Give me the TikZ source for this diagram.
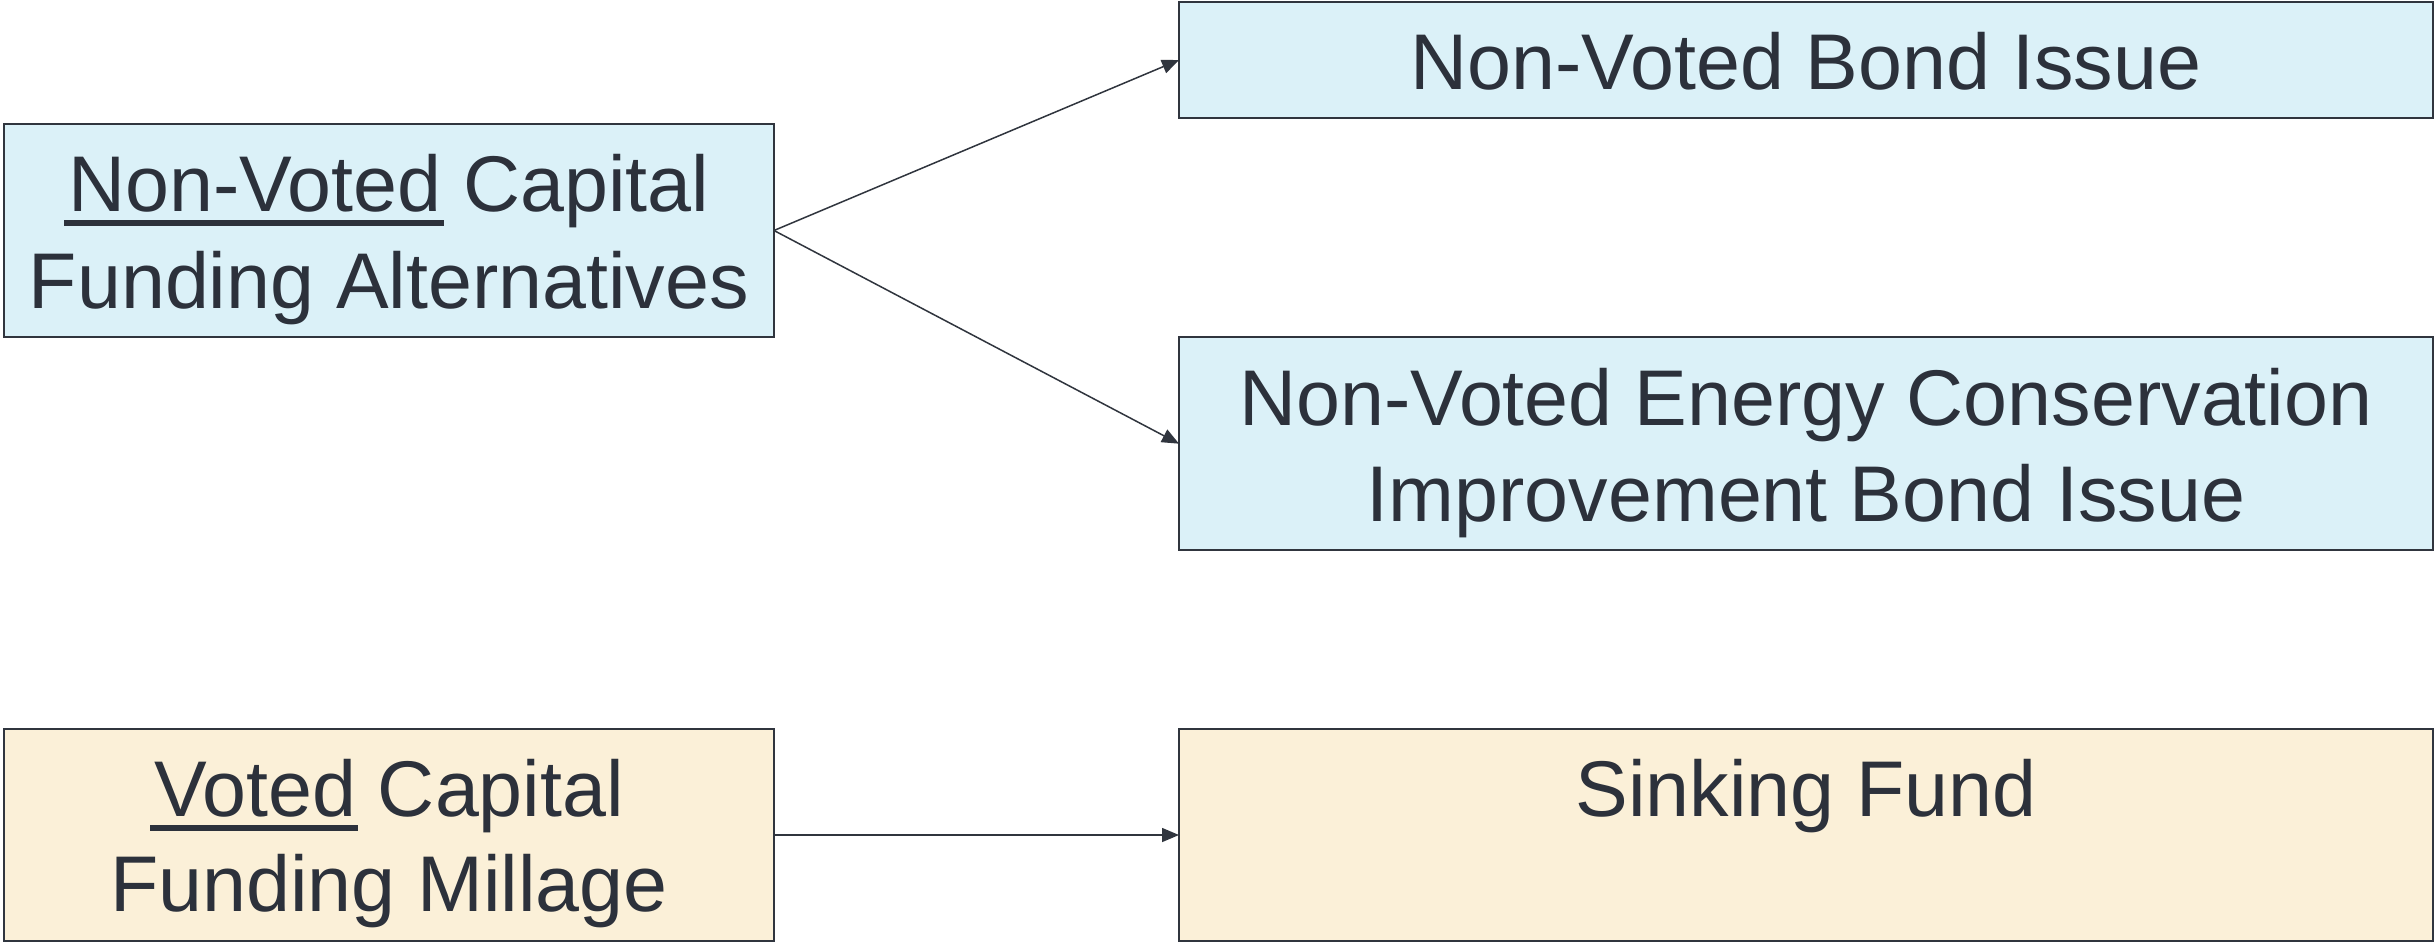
\documentclass[tikz,border=0pt]{standalone}
\usepackage{fontspec}
\setmainfont{Liberation Sans}
\usetikzlibrary{arrows.meta}
\definecolor{txt}{HTML}{2C313B}
\definecolor{edge}{HTML}{30353E}
\definecolor{bluefill}{HTML}{DBF1F8}
\definecolor{beigefill}{HTML}{FBF0D8}
\newcommand\myul[1]{\setbox0\hbox{#1}\rlap{\kern-4pt\rule[-14pt]{\dimexpr\wd0+6pt\relax}{5.5pt}}\box0\relax}
\tikzset{
  box/.style={draw=edge, line width=2pt, inner sep=0pt, outer sep=0pt, rectangle},
  bluebox/.style={box, fill=bluefill},
  beigebox/.style={box, fill=beigefill},
  lbl/.style={anchor=base, inner sep=0pt, outer sep=0pt, text=txt, font=\fontsize{79}{95}\selectfont},
  conn/.style={draw=edge, line width=1.5pt, -{Triangle[length=17pt,width=14pt]}}
}
\begin{document}
\begin{tikzpicture}[x=1pt,y=-1pt]
\useasboundingbox[fill=white] (0,0) rectangle (2435,942);
% boxes
\node[bluebox, minimum width=770pt, minimum height=213pt] (A) at (389,230.5) {};
\node[bluebox, minimum width=1254pt, minimum height=116pt] (B) at (1806,60) {};
\node[bluebox, minimum width=1254pt, minimum height=213.5pt] (C) at (1806,443.7) {};
\node[beigebox, minimum width=770pt, minimum height=212pt] (D) at (389,835) {};
\node[beigebox, minimum width=1254pt, minimum height=212pt] (E) at (1806,835) {};
% texts
\node[lbl] (a1) at (389,211.7) {\myul{Non-Voted} Capital};
\node[lbl] (a2) at (389,308) {Funding Alternatives};
\node[lbl] (b1) at (1806,89) {Non-Voted Bond Issue};
\node[lbl] (c1) at (1806,425) {Non-Voted Energy Conservation};
\node[lbl] (c2) at (1806,521.7) {Improvement Bond Issue};
\node[lbl] (d1) at (389,816.7) {\myul{Voted} Capital};
\node[lbl] (d2) at (389,911.7) {Funding Millage};
\node[lbl] (e1) at (1806,816) {Sinking Fund};
% connectors
\draw[conn] (A.east) -- (B.west);
\draw[conn] (A.east) -- (C.west);
\draw[conn] (D.east) -- (E.west);
\end{tikzpicture}
\end{document}
